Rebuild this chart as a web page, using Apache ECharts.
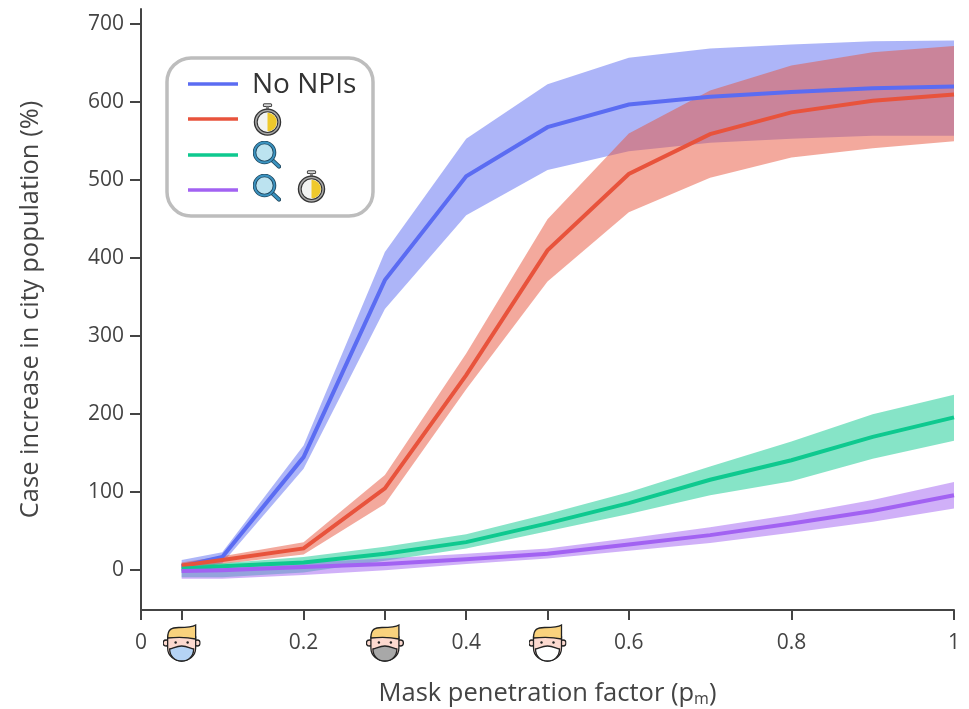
<!DOCTYPE html>
<html><head><meta charset="utf-8">
<style>html,body{margin:0;padding:0;background:#fff}#c{width:969px;height:709px}</style>
<script src="https://cdn.jsdelivr.net/npm/echarts@6/dist/echarts.min.js"></script>
</head><body><div id="c"></div>
<script>
const xs = [0.05,0.1,0.2,0.3,0.4,0.5,0.6,0.7,0.8,0.9,1];
const blueMean = [5,17,145,372,505,568,597,607,613,618,620];
const blueHigh = [13,23,160,408,553,623,657,669,674,678,679];
const blueLow  = [-3,9,130,335,455,513,537,548,553,557,557];
const redMean = [6,13,28,105,250,410,508,559,587,602,610];
const redHigh = [10,18,36,122,278,450,560,615,647,664,672];
const redLow  = [2,8,20,85,232,370,459,503,529,541,550];
const greenMean = [2,5,10,21,36,60,86,116,141,171,196];
const greenHigh = [7,9,17,30,46,72,100,133,165,200,225];
const greenLow  = [-9,-9,-3,12,28,50,72,96,114,143,166];
const purpleMean = [-1,0,4,8,14,21,33,45,60,76,96];
const purpleHigh = [6,6,10,15,21,28,41,55,71,90,113];
const purpleLow  = [-11,-11,-6,0,8,15,25,35,48,62,79];
const yTicks = [0,100,200,300,400,500,600,700];
const xTicks = [0,0.05,0.2,0.3,0.4,0.5,0.6,0.8,1];
const legendText = 'No NPIs';

const uri = s => 'data:image/svg+xml;charset=utf-8,' + encodeURIComponent(s);
const face = m => uri(`<svg xmlns="http://www.w3.org/2000/svg" width="76" height="76" viewBox="0 0 38 38">
<circle cx="3.5" cy="19" r="3" fill="#fcd9cf" stroke="#222" stroke-width="1.3"/><circle cx="34.5" cy="19" r="3" fill="#fcd9cf" stroke="#222" stroke-width="1.3"/>
<path d="M5 13V24C5 32 12 37 19 37S33 32 33 24V13Z" fill="#fcd9cf" stroke="#222" stroke-width="1.3"/>
<path d="M5 14C5 5 9 3.5 16 3.5C24 3.5 30 3 33 1V15C24 13 14 13 5 14Z" fill="#f9d27d" stroke="#222" stroke-width="1.3"/>
<circle cx="13" cy="18.5" r="1.2" fill="#222"/><circle cx="25" cy="18.5" r="1.2" fill="#222"/>
<path d="M7 25C11 24 14 22 19 22S27 24 31 25C31 32 26 37 19 37S7 32 7 25Z" fill="${m}" stroke="#222" stroke-width="1.3"/></svg>`);
const stopwatch = uri(`<svg xmlns="http://www.w3.org/2000/svg" width="56" height="64" viewBox="0 0 28 32">
<rect x="10" y="0.8" width="8" height="2.6" rx="1" fill="#d8d8d8" stroke="#444" stroke-width="1"/><rect x="12.5" y="3.4" width="3" height="2.5" fill="#888"/>
<circle cx="14" cy="18.5" r="12.6" fill="#aaa" stroke="#333" stroke-width="1.3"/><circle cx="14" cy="18.5" r="10" fill="#f2f3f2" stroke="#333" stroke-width="1"/>
<path d="M14 9.5A9 9 0 0 1 14 27.5Z" fill="#efc92c"/></svg>`);
const lens = uri(`<svg xmlns="http://www.w3.org/2000/svg" width="56" height="56" viewBox="0 0 28 28">
<path d="M18 18L26 25.5" stroke="#20485f" stroke-width="4.4" stroke-linecap="round"/><path d="M18 18L26 25.5" stroke="#3b93c0" stroke-width="2.4" stroke-linecap="round"/>
<circle cx="11.5" cy="11.5" r="10" fill="#bce3f0" stroke="#20485f" stroke-width="3.6"/><circle cx="11.5" cy="11.5" r="10" fill="none" stroke="#3b93c0" stroke-width="1.8"/></svg>`);

function band(name,color,low,high){
  return {type:'custom',name,silent:true,clip:true,
    data:xs.map((x,i)=>[x,low[i],high[i]]),
    encode:{x:0,y:[1,2]},
    renderItem(params,api){
      if(params.dataIndex!==0) return null;
      const up=xs.map((x,i)=>api.coord([x,high[i]]));
      const dn=xs.map((x,i)=>api.coord([x,low[i]])).reverse();
      return {type:'polygon',shape:{points:up.concat(dn)},style:{fill:color,opacity:0.5}};
    }};
}
function mean(name,color,vals){
  return {type:'line',name,silent:true,showSymbol:false,symbol:'none',
    data:xs.map((x,i)=>[x,vals[i]]),lineStyle:{color,width:4,join:'miter'},itemStyle:{color}};
}
const C={b:'#5b6cf2',r:'#e8533c',g:'#0ec98f',p:'#a262f2'};
const ink='#444';
const font='"Open Sans"';
const chart=echarts.init(document.getElementById('c'),null,{renderer:'canvas'});
const legendY=[84,119,155,190], legendC=[C.b,C.r,C.g,C.p];
chart.setOption({
  animation:false,
  backgroundColor:'#fff',
  grid:{left:141,right:15,top:9,bottom:99,containLabel:false,outerBoundsMode:'none'},
  xAxis:{type:'value',min:0,max:1,
    name:'{t|Mask penetration factor (p}{s|m}{t|)}',nameLocation:'middle',nameGap:71,
    nameTextStyle:{rich:{t:{fontFamily:font,fontSize:25.5,color:ink},s:{fontFamily:font,fontSize:16,color:ink,verticalAlign:'bottom',padding:[10,0,0,0]}}},
    axisLine:{show:true,onZero:false,lineStyle:{color:ink,width:2}},
    axisTick:{show:true,length:10,customValues:xTicks,lineStyle:{color:ink,width:2}},
    splitLine:{show:false},
    axisLabel:{show:true,margin:14,customValues:xTicks,showMinLabel:true,showMaxLabel:true,
      formatter:v=>{
        if(v===0.05) return '{a|}'; if(v===0.3) return '{b|}'; if(v===0.5) return '{c|}';
        return '{n|'+String(+v.toFixed(2))+'}';
      },
      rich:{
        n:{fontFamily:font,fontSize:21,color:ink,height:38,lineHeight:38},
        a:{width:38,height:38,backgroundColor:{image:face('#b5d3f5')}},
        b:{width:38,height:38,backgroundColor:{image:face('#a8a8a8')}},
        c:{width:38,height:38,backgroundColor:{image:face('#ffffff')}}
      }}},
  yAxis:{type:'value',min:-51,max:719.5,
    name:'Case increase in city population (%)',nameLocation:'middle',nameGap:97,
    nameTextStyle:{fontFamily:font,fontSize:25.5,color:ink},
    axisLine:{show:true,onZero:false,lineStyle:{color:ink,width:2}},
    axisTick:{show:true,length:11,customValues:yTicks,lineStyle:{color:ink,width:2}},
    splitLine:{show:false},
    axisLabel:{margin:17,customValues:yTicks,fontFamily:font,fontSize:21,color:ink}},
  series:[
    band('No NPIs band',C.b,blueLow,blueHigh),mean('No NPIs',C.b,blueMean),
    band('Timer band',C.r,redLow,redHigh),mean('Timer',C.r,redMean),
    band('Search band',C.g,greenLow,greenHigh),mean('Search',C.g,greenMean),
    band('Search and timer band',C.p,purpleLow,purpleHigh),mean('Search and timer',C.p,purpleMean)
  ],
  graphic:{elements:[
    {type:'rect',z:50,shape:{x:167,y:58,width:206,height:158,r:24},style:{fill:'#fff',stroke:'#bdbdbd',lineWidth:3.5}},
    ...legendY.map((y,i)=>({type:'line',z:51,shape:{x1:188,y1:y,x2:238,y2:y},style:{stroke:legendC[i],lineWidth:3.5}})),
    {type:'text',z:51,x:252,y:85,style:{text:legendText,fontFamily:font,fontSize:28,fill:'#333',verticalAlign:'middle'}},
    {type:'image',z:51,x:253,y:103,style:{image:stopwatch,width:29,height:33}},
    {type:'image',z:51,x:253,y:141,style:{image:lens,width:28,height:28}},
    {type:'image',z:51,x:253,y:174,style:{image:lens,width:28,height:28}},
    {type:'image',z:51,x:297,y:170,style:{image:stopwatch,width:29,height:33}}
  ]}
});
</script></body></html>
